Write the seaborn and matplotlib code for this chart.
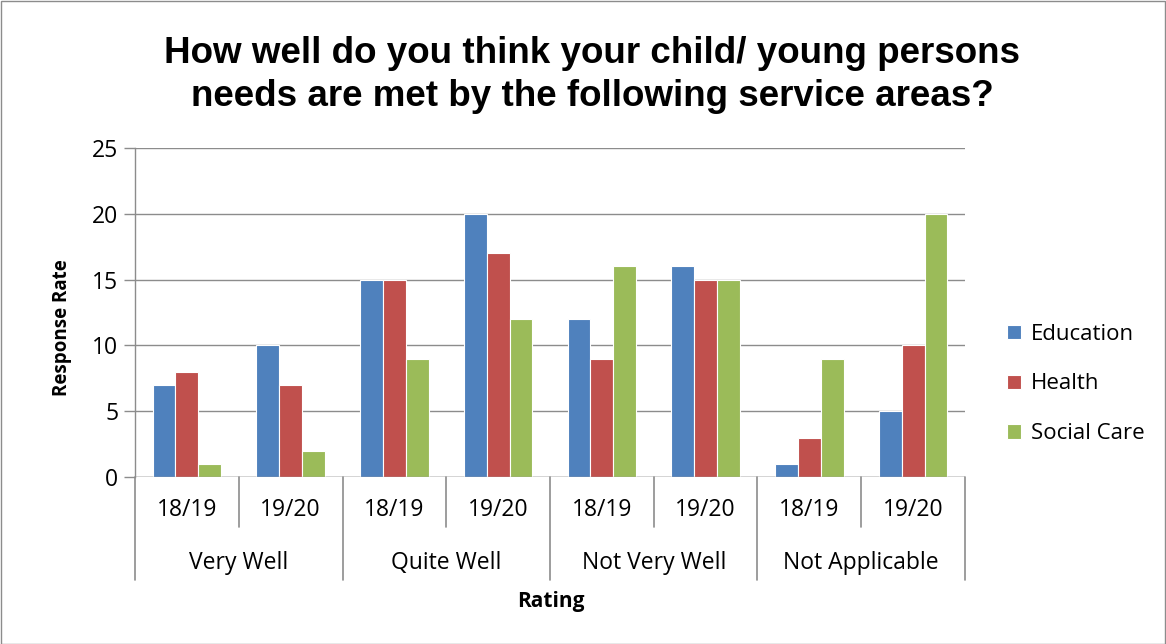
import matplotlib
matplotlib.use("Agg")
import matplotlib.pyplot as plt
import matplotlib.transforms as mtransforms
from matplotlib.patches import Rectangle
import seaborn as sns
import pandas as pd

groups = ["Very Well", "Quite Well", "Not Very Well", "Not Applicable"]
years = ["18/19", "19/20"]
series = ["Education", "Health", "Social Care"]
education = [7, 10, 15, 20, 12, 16, 1, 5]
health = [8, 7, 15, 17, 9, 15, 3, 10]
social_care = [1, 2, 9, 12, 16, 15, 9, 20]
colors = ["#4F81BD", "#C0504D", "#9BBB59"]

cats = [f"{g}|{y}" for g in groups for y in years]
rows = []
for name, vals in zip(series, [education, health, social_care]):
    for c, v in zip(cats, vals):
        rows.append({"cat": c, "series": name, "value": v})
df = pd.DataFrame(rows)

sns.set_theme(style="white")
plt.rcParams["font.family"] = ["Open Sans", "DejaVu Sans"]
plt.rcParams["text.color"] = "black"

FS = 16.5
fig = plt.figure(figsize=(11.66, 6.44), dpi=100)
W, H = 1166, 644
ax = fig.add_axes([135 / W, 1 - 477 / H, 830 / W, 329 / H])

sns.barplot(data=df, x="cat", y="value", hue="series", order=cats,
            hue_order=series, palette=colors, width=0.66, ax=ax,
            edgecolor="white", linewidth=0.8, saturation=1, legend=True)

ax.set_ylim(0, 25)
ax.set_xlim(-0.5, len(cats) - 0.5)
ax.set_yticks([0, 5, 10, 15, 20, 25])
ax.yaxis.grid(True, color="#8C8C8C", linewidth=1)
ax.set_axisbelow(True)
for s in ["top", "right", "bottom"]:
    ax.spines[s].set_visible(False)
ax.spines["left"].set_color("#8C8C8C")
ax.spines["left"].set_linewidth(1)
ax.tick_params(axis="y", which="both", left=True, length=8, width=1,
               color="#8C8C8C", labelsize=FS, pad=4, labelcolor="black")
ax.set_xticks(range(len(cats)))
ax.set_xticklabels([])
ax.tick_params(axis="x", bottom=False)
ax.set_xlabel("")
ax.set_ylabel("")
ax.axhline(0, color="#8C8C8C", linewidth=1, zorder=3)

fig.text(62 / W, 1 - 328 / H, "Response Rate", rotation=90, ha="center",
         va="center", fontsize=13.5, fontweight="bold")

trans = mtransforms.blended_transform_factory(ax.transData, fig.transFigure)
y0 = 1 - 477 / H
y_in = 1 - 527 / H
y_out = 1 - 580 / H
for i, c in enumerate(cats):
    yr = c.split("|")[1]
    fig.text(i, 1 - 510 / H, yr, transform=trans, ha="center", va="center",
             fontsize=FS)
for gi, g in enumerate(groups):
    fig.text(gi * 2 + 0.5, 1 - 563 / H, g, transform=trans, ha="center",
             va="center", fontsize=FS)
for b in range(len(cats) + 1):
    xb = b - 0.5
    ylow = y_out if b % 2 == 0 else y_in
    fig.add_artist(plt.Line2D([xb, xb], [y0, ylow], transform=trans,
                              color="#8C8C8C", linewidth=1.2))

fig.text(551 / W, 1 - 602 / H, "Rating", ha="center", va="center",
         fontsize=15, fontweight="bold")

fig.text(592 / W, 1 - 75 / H,
         "How well do you think your child/ young persons\nneeds are met by the following service areas?",
         ha="center", va="center", fontsize=26.5, fontweight="bold",
         family=["Liberation Sans", "DejaVu Sans"], linespacing=1.3,
         color="black")

leg = ax.legend(loc="center left", bbox_to_anchor=(1.027, 0.283), frameon=False,
                fontsize=16, handlelength=0.6, handleheight=0.6,
                labelspacing=1.3, handletextpad=0.45)
for t in leg.get_texts():
    t.set_color("black")

fig.add_artist(Rectangle((0.5 / W, 0.5 / H), 1 - 1.5 / W, 1 - 1.5 / H,
                         transform=fig.transFigure, fill=False,
                         edgecolor="#8C8C8C", linewidth=1))

fig.savefig("out.png", dpi=100, facecolor="white")
